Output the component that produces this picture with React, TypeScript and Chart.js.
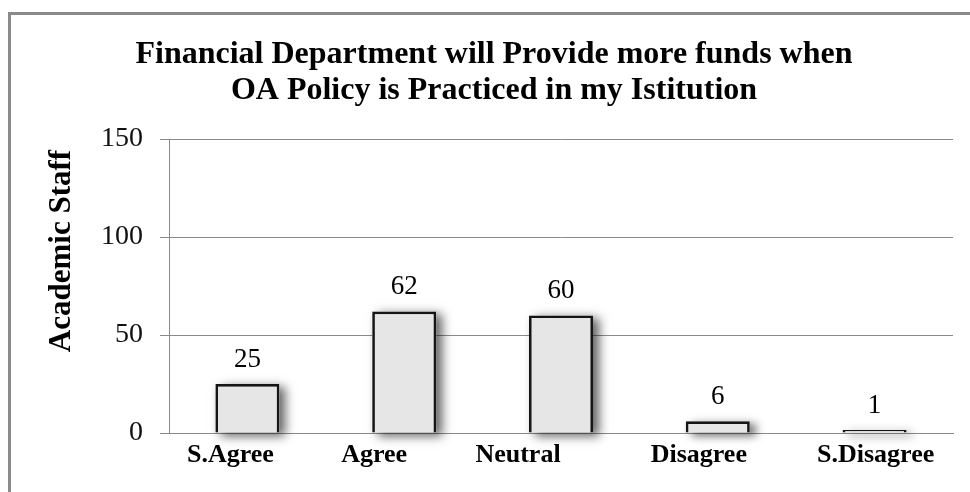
import React, { useEffect, useRef } from "react";
import { Chart, registerables } from "chart.js";

Chart.register(...registerables);

const categories = ["S.Agree", "Agree", "Neutral", "Disagree", "S.Disagree"];
const values = [25, 62, 60, 6, 1];
const yTickValues = [0, 50, 100, 150];
const titleLines = [
  "Financial Department will Provide more funds when",
  "OA Policy is Practiced in my Istitution",
];
const yAxisTitle = "Academic Staff";

// horizontal nudge of each category label relative to its bar (layout only)
const labelNudge = [-17, -30, -43, -19, 1];

const SERIF = "'Liberation Serif', 'Times New Roman', serif";

const decorPlugin = {
  id: "decor",
  beforeDatasetsDraw(chart: any) {
    const ctx = chart.ctx;
    const meta = chart.getDatasetMeta(0);
    ctx.save();
    ctx.shadowColor = "rgba(0,0,0,0.62)";
    ctx.shadowBlur = 10;
    ctx.shadowOffsetX = 6;
    ctx.shadowOffsetY = 3;
    ctx.fillStyle = "#e4e4e4";
    meta.data.forEach((el: any) => {
      const p = el.getProps(["x", "y", "base", "width"], true);
      const left = p.x - p.width / 2;
      const top = Math.min(p.y, p.base);
      const h = Math.max(Math.abs(p.base - p.y), 2);
      ctx.fillRect(left, top, p.width, h);
    });
    ctx.restore();
  },
  afterDatasetsDraw(chart: any) {
    const ctx = chart.ctx;
    const meta = chart.getDatasetMeta(0);
    ctx.save();
    ctx.fillStyle = "#000";
    ctx.textAlign = "center";
    ctx.textBaseline = "alphabetic";
    ctx.font = `27px ${SERIF}`;
    meta.data.forEach((el: any, i: number) => {
      ctx.fillText(String(values[i]), el.x, el.y - 17);
    });
    ctx.font = `bold 26px ${SERIF}`;
    meta.data.forEach((el: any, i: number) => {
      ctx.fillText(categories[i], el.x + labelNudge[i], 462);
    });
    ctx.restore();
  },
  afterDraw(chart: any) {
    const ctx = chart.ctx;
    ctx.save();
    ctx.fillStyle = "#000";
    ctx.textAlign = "center";
    ctx.textBaseline = "alphabetic";
    ctx.font = `bold 32px ${SERIF}`;
    ctx.fillText(titleLines[0], 494, 63);
    ctx.fillText(titleLines[1], 494, 99);
    ctx.translate(62, 251);
    ctx.rotate(-Math.PI / 2);
    ctx.textBaseline = "middle";
    ctx.font = `bold 31px ${SERIF}`;
    ctx.fillText(yAxisTitle, 0, 0);
    ctx.restore();
  },
};

export default function App() {
  const ref = useRef<HTMLCanvasElement>(null);
  useEffect(() => {
    if (!ref.current) return;
    const chart = new Chart(ref.current, {
      type: "bar",
      data: {
        labels: categories,
        datasets: [
          {
            data: values,
            backgroundColor: "#e6e6e6",
            borderColor: "#151515",
            borderWidth: 2.7,
            barPercentage: 0.408,
            categoryPercentage: 1,
            minBarLength: 3,
          },
        ],
      },
      options: {
        responsive: false,
        animation: false,
        devicePixelRatio: 1,
        layout: { padding: { top: 139, right: 17, left: 0, bottom: 0 } },
        plugins: {
          legend: { display: false },
          title: { display: false },
          tooltip: { enabled: false },
        },
        scales: {
          x: {
            afterFit: (s: any) => {
              s.height = 59;
            },
            grid: { display: false, drawTicks: false },
            border: { display: true, color: "#8a8a8a", width: 1 },
            ticks: { display: false },
          },
          y: {
            min: 0,
            max: 150,
            afterFit: (s: any) => {
              s.width = 169;
            },
            afterBuildTicks: (s: any) => {
              s.ticks = yTickValues.map((v) => ({ value: v }));
            },
            grid: {
              color: "#8a8a8a",
              lineWidth: 1,
              drawTicks: true,
              tickLength: 9,
            },
            border: { display: true, color: "#8a8a8a", width: 1 },
            ticks: {
              color: "#111",
              padding: 17,
              font: { family: SERIF, size: 28 },
            },
          },
        },
      },
      plugins: [decorPlugin],
    });
    return () => chart.destroy();
  }, []);
  return (
    <div
      style={{
        position: "fixed",
        left: 0,
        top: 0,
        width: 970,
        height: 492,
        background: "#fff",
        overflow: "hidden",
      }}
    >
      <div
        style={{
          position: "absolute",
          left: 8,
          top: 12,
          width: 980,
          height: 500,
          borderLeft: "3px solid #8a8a8a",
          borderTop: "3px solid #8a8a8a",
        }}
      />
      <canvas
        ref={ref}
        width={970}
        height={492}
        style={{ position: "absolute", left: 0, top: 0, width: 970, height: 492 }}
      />
    </div>
  );
}
